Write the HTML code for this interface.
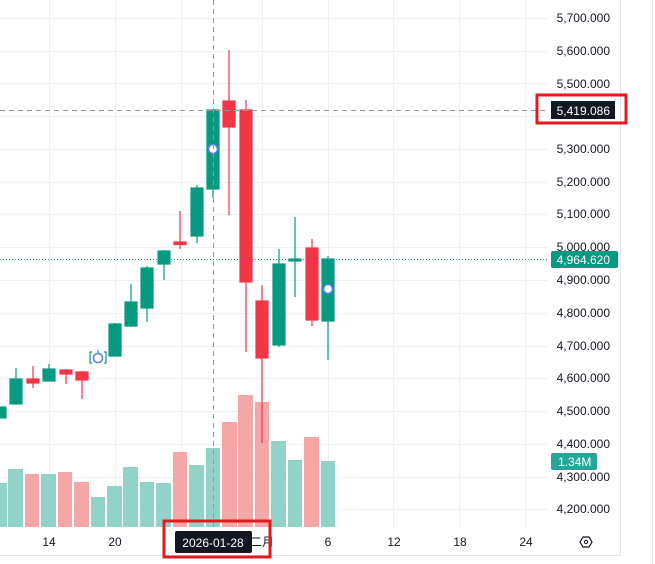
<!DOCTYPE html>
<html><head><meta charset="utf-8"><style>
html,body{margin:0;padding:0;background:#fff;width:655px;height:564px;overflow:hidden}
svg{display:block;font-family:"Liberation Sans","Noto Sans CJK SC",sans-serif}
</style></head><body>
<svg width="655" height="564" viewBox="0 0 655 564" xmlns="http://www.w3.org/2000/svg">
<g stroke="#eef0f3" stroke-width="1">
<line x1="0" y1="18.5" x2="548" y2="18.5"/><line x1="0" y1="51.5" x2="548" y2="51.5"/><line x1="0" y1="83.5" x2="548" y2="83.5"/><line x1="0" y1="116.5" x2="548" y2="116.5"/><line x1="0" y1="149.5" x2="548" y2="149.5"/><line x1="0" y1="182.5" x2="548" y2="182.5"/><line x1="0" y1="214.5" x2="548" y2="214.5"/><line x1="0" y1="247.5" x2="548" y2="247.5"/><line x1="0" y1="280.5" x2="548" y2="280.5"/><line x1="0" y1="313.5" x2="548" y2="313.5"/><line x1="0" y1="346.5" x2="548" y2="346.5"/><line x1="0" y1="378.5" x2="548" y2="378.5"/><line x1="0" y1="411.5" x2="548" y2="411.5"/><line x1="0" y1="444.5" x2="548" y2="444.5"/><line x1="0" y1="477.5" x2="548" y2="477.5"/><line x1="0" y1="509.5" x2="548" y2="509.5"/>
<line x1="49.5" y1="0" x2="49.5" y2="528"/><line x1="115.5" y1="0" x2="115.5" y2="528"/><line x1="181.5" y1="0" x2="181.5" y2="528"/><line x1="262.5" y1="0" x2="262.5" y2="528"/><line x1="328.5" y1="0" x2="328.5" y2="528"/><line x1="393.5" y1="0" x2="393.5" y2="528"/><line x1="459.5" y1="0" x2="459.5" y2="528"/><line x1="525.5" y1="0" x2="525.5" y2="528"/>
</g>
<g>
<rect x="0" y="483" width="7" height="44" fill="#92d2c9"/>
<rect x="8" y="469" width="15" height="58" fill="#92d2c9"/>
<rect x="25" y="474" width="14" height="53" fill="#f5a6a6"/>
<rect x="41" y="474" width="15" height="53" fill="#92d2c9"/>
<rect x="58" y="472" width="14" height="55" fill="#f5a6a6"/>
<rect x="74" y="482" width="15" height="45" fill="#f5a6a6"/>
<rect x="91" y="497" width="14" height="30" fill="#92d2c9"/>
<rect x="107" y="486" width="15" height="41" fill="#92d2c9"/>
<rect x="123" y="467" width="15" height="60" fill="#92d2c9"/>
<rect x="140" y="482" width="14" height="45" fill="#92d2c9"/>
<rect x="156" y="483" width="15" height="44" fill="#92d2c9"/>
<rect x="173" y="452" width="14" height="75" fill="#f5a6a6"/>
<rect x="189" y="465" width="15" height="62" fill="#92d2c9"/>
<rect x="206" y="448" width="14" height="79" fill="#92d2c9"/>
<rect x="222" y="422" width="15" height="105" fill="#f5a6a6"/>
<rect x="238" y="395" width="15" height="132" fill="#f5a6a6"/>
<rect x="255" y="402" width="14" height="125" fill="#f5a6a6"/>
<rect x="271" y="441" width="15" height="86" fill="#92d2c9"/>
<rect x="288" y="460" width="14" height="67" fill="#92d2c9"/>
<rect x="304" y="437" width="15" height="90" fill="#f5a6a6"/>
<rect x="321" y="461" width="14" height="66" fill="#92d2c9"/>
</g>
<g stroke-width="1.2">
<g fill="#089981" stroke="#089981">
<rect x="-6" y="407" width="12" height="11"/>
<line x1="16" y1="368" x2="16" y2="404"/><rect x="10" y="379" width="12" height="25"/>
<line x1="49" y1="364" x2="49" y2="381"/><rect x="43" y="369" width="12" height="12"/>
<line x1="98" y1="350" x2="98" y2="360"/>
<line x1="115" y1="323" x2="115" y2="356"/><rect x="109" y="324" width="12" height="32"/>
<line x1="131" y1="284" x2="131" y2="327"/><rect x="125" y="302" width="12" height="24"/>
<line x1="147" y1="266" x2="147" y2="322"/><rect x="141" y="268" width="12" height="40"/>
<line x1="164" y1="250" x2="164" y2="280"/><rect x="158" y="251" width="12" height="13"/>
<line x1="197" y1="185" x2="197" y2="243"/><rect x="191" y="188" width="12" height="48"/>
<line x1="213" y1="110" x2="213" y2="198"/><rect x="207" y="110" width="12" height="79"/>
<line x1="279" y1="249" x2="279" y2="347"/><rect x="273" y="264" width="12" height="81"/>
<line x1="295" y1="217" x2="295" y2="297"/><rect x="289" y="259" width="12" height="2"/>
<line x1="328" y1="256" x2="328" y2="360"/><rect x="322" y="259" width="12" height="62"/>
</g>
<g fill="#f23645" stroke="#f23645">
<line x1="33" y1="366" x2="33" y2="388"/><rect x="27" y="379" width="12" height="4"/>
<line x1="66" y1="370" x2="66" y2="384"/><rect x="60" y="370" width="12" height="4"/>
<line x1="82" y1="371" x2="82" y2="399"/><rect x="76" y="372" width="12" height="8"/>
<line x1="180" y1="211" x2="180" y2="249"/><rect x="174" y="242" width="12" height="2.5"/>
<line x1="229" y1="50" x2="229" y2="215"/><rect x="223" y="101" width="12" height="26"/>
<line x1="246" y1="100" x2="246" y2="352"/><rect x="240" y="110" width="12" height="172"/>
<line x1="262" y1="285" x2="262" y2="443"/><rect x="256" y="301" width="12" height="57"/>
<line x1="312" y1="239" x2="312" y2="326"/><rect x="306" y="248" width="12" height="72"/>
</g>
</g>
<g fill="#fff" stroke="#5b7ee5" stroke-width="1.6">
<circle cx="213" cy="149" r="4.5"/><circle cx="328" cy="289" r="4.5"/><circle cx="98" cy="358" r="4.5"/>
</g>
<path d="M92 352 h-2 v11 h2 M104 352 h2 v11 h-2" stroke="#089981" fill="none" stroke-width="1.2"/>
<line x1="0" y1="259.5" x2="548" y2="259.5" stroke="#089981" stroke-dasharray="1 2"/>
<line x1="0" y1="110.5" x2="548" y2="110.5" stroke="#9598a1" stroke-dasharray="5 4"/>
<line x1="213.5" y1="0" x2="213.5" y2="528" stroke="#9598a1" stroke-dasharray="5 4"/>
<line x1="620.5" y1="0" x2="620.5" y2="556" stroke="#e0e3eb"/>
<line x1="0" y1="555.5" x2="621" y2="555.5" stroke="#e0e3eb"/>
<line x1="652.5" y1="0" x2="652.5" y2="564" stroke="#e0e3eb"/>
<g font-size="12" fill="#131722" text-anchor="end">
<text x="610" y="22">5,700.000</text><text x="610" y="55">5,600.000</text><text x="610" y="88">5,500.000</text>
<text x="610" y="153">5,300.000</text><text x="610" y="186">5,200.000</text><text x="610" y="218">5,100.000</text>
<text x="610" y="251">5,000.000</text><text x="610" y="284">4,900.000</text><text x="610" y="317">4,800.000</text><text x="610" y="350">4,700.000</text>
<text x="610" y="382">4,600.000</text><text x="610" y="415">4,500.000</text><text x="610" y="448">4,400.000</text>
<text x="610" y="481">4,300.000</text><text x="610" y="513">4,200.000</text>
</g>
<rect x="551" y="101" width="64" height="18" fill="#131722"/>
<text x="610" y="115" font-size="12" fill="#fff" text-anchor="end">5,419.086</text>
<rect x="537" y="95" width="89" height="28" fill="none" stroke="#e3191e" stroke-width="3"/>
<rect x="551" y="251" width="67" height="17" rx="2" fill="#089981"/>
<text x="610" y="264" font-size="12" fill="#fff" text-anchor="end">4,964.620</text>
<rect x="551" y="453" width="46" height="17" rx="2" fill="#26a69a"/>
<text x="558" y="466" font-size="12" fill="#fff">1.34M</text>
<g font-size="12" fill="#131722" text-anchor="middle">
<text x="49" y="546">14</text><text x="115" y="546">20</text><text x="262" y="546">二月</text>
<text x="328" y="546">6</text><text x="394" y="546">12</text><text x="460" y="546">18</text><text x="526" y="546">24</text>
</g>
<rect x="175" y="531" width="77" height="22" rx="2" fill="#131722"/>
<text x="213" y="547" font-size="12" fill="#fff" text-anchor="middle">2026-01-28</text>
<rect x="164" y="521" width="106" height="36" fill="none" stroke="#e3191e" stroke-width="3"/>
<polygon points="580,542 583,537 589,537 592,542 589,547 583,547" fill="none" stroke="#131722" stroke-width="1.2"/>
<circle cx="586" cy="542" r="1.6" fill="none" stroke="#131722"/>
</svg>
</body></html>
